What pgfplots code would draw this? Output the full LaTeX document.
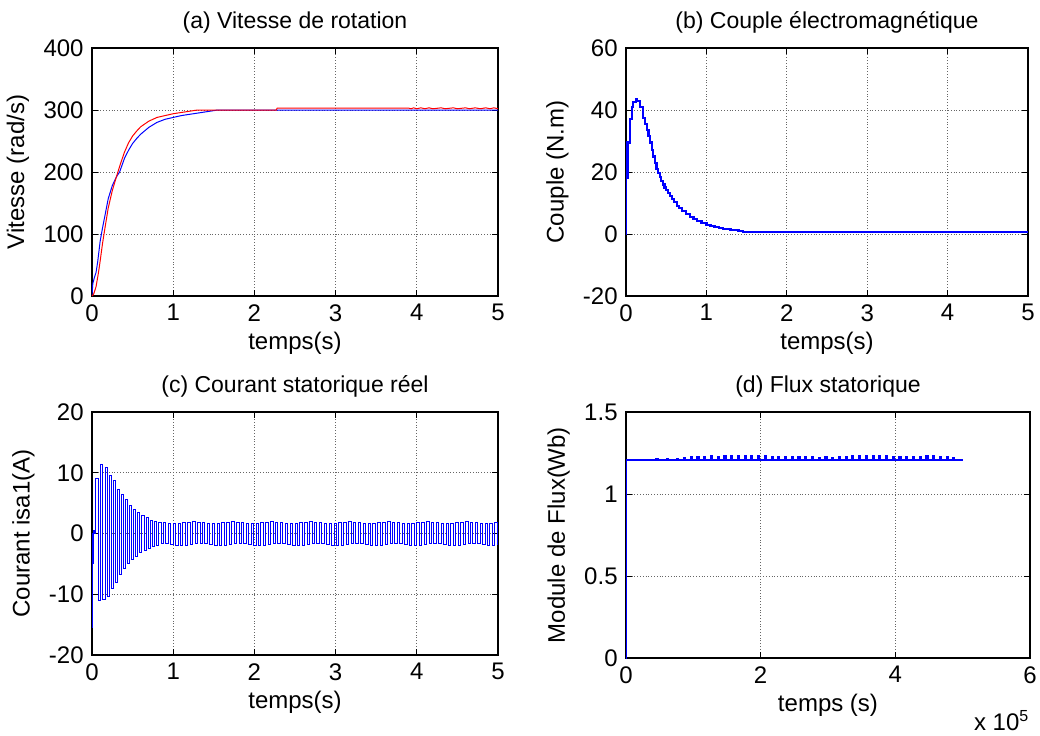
\documentclass[border=0pt,12pt]{standalone}
\usepackage{fontspec}
\setmainfont{Liberation Sans}
\usepackage{pgfplots}
\pgfplotsset{compat=1.18}

% style commun aux quatre sous-figures (aspect Matlab)
\pgfplotsset{
  matlab/.style={
    scale only axis,
    anchor=south west,
    tick align=inside,
    tick pos=both,
    major tick length=3pt,
    grid=major,
    grid style={densely dotted, black!60, line width=0.4pt},
    axis line style={line width=0.7pt},
    every tick/.style={black, line width=0.5pt},
    /pgf/number format/assume math mode=true,
    xlabel style={yshift=3pt},
    ylabel style={yshift=-1pt},
    title style={yshift=-3pt, font=\fontsize{11.5}{13}\selectfont},
  }
}

\begin{document}
\begin{tikzpicture}

% (a) vitesse
\begin{axis}[matlab, at={(46pt,219.5pt)}, width=203pt, height=124pt,
  title={(a) Vitesse de rotation},
  xlabel={temps(s)}, ylabel={Vitesse (rad/s)},
  xmin=0, xmax=5, ymin=0, ymax=400,
  xtick={0,1,...,5}, ytick={0,100,...,400}]
\addplot[blue, line width=0.5pt] coordinates {
  (0,0) (0.01,20) (0.03,30) (0.05,38) (0.07,55) (0.1,88) (0.13,110) (0.16,130)
  (0.2,157) (0.25,178) (0.3,192) (0.34,200) (0.4,222) (0.45,235) (0.5,246)
  (0.55,254) (0.6,261) (0.7,272) (0.8,280) (0.9,285) (1.0,288) (1.1,291)
  (1.2,293) (1.3,295) (1.4,297) (1.5,299) (1.55,300) (5,300)
};
\addplot[red, line width=0.5pt] coordinates {
  (0,0) (0.02,3) (0.05,15) (0.08,38) (0.1,56) (0.13,85) (0.16,110) (0.2,142)
  (0.25,170) (0.3,192) (0.35,213) (0.4,232) (0.45,247) (0.5,258) (0.55,266)
  (0.6,273) (0.7,282) (0.8,288) (0.9,291) (1.0,294) (1.1,296) (1.2,298)
  (1.3,300) (2.27,300) (2.28,303) (3.9,303) (3.93,302) (3.96,303.5) (4.0,302)
  (4.05,303.5) (4.1,302) (4.15,303.5) (4.2,302) (4.3,303.5) (4.35,302)
  (4.45,303.5) (4.5,302) (4.6,303.5) (4.65,302) (4.72,303.5) (4.78,302)
  (4.85,303.5) (4.9,302) (4.95,303.5) (5,302)
};
\end{axis}

% (b) couple
\begin{axis}[matlab, at={(313pt,219.5pt)}, width=201pt, height=124pt,
  title={(b) Couple électromagnétique},
  xlabel={temps(s)}, ylabel={Couple (N.m)},
  xmin=0, xmax=5, ymin=-20, ymax=60,
  xtick={0,1,...,5}, ytick={-20,0,...,60}]
\addplot[blue, line width=1.1pt, const plot] coordinates {
  (0,0) (0.004,18) (0.015,18) (0.018,29.5) (0.04,29.5) (0.045,37) (0.065,37)
  (0.07,41) (0.09,42.5) (0.12,43.5) (0.14,43) (0.17,41) (0.215,37.5)
  (0.24,35.5) (0.26,33.5) (0.28,31.5) (0.3,29.5) (0.32,27.2) (0.34,25)
  (0.36,23) (0.38,21) (0.4,19.6) (0.42,18.3) (0.44,17.1) (0.46,16) (0.48,15)
  (0.5,14.2) (0.525,13.2) (0.55,12.2) (0.575,11.2) (0.6,10.2) (0.63,9.1)
  (0.66,8.3) (0.7,7.5) (0.75,6.5) (0.8,5.5) (0.84,4.9) (0.88,4.3)
  (0.94,3.5) (1.0,2.9) (1.05,2.5) (1.1,2.2) (1.16,1.9) (1.21,1.6) (1.3,1.3)
  (1.4,1.0) (1.46,0.75) (1.5,0.6) (5,0.6)
};
\end{axis}

% (c) courant
\begin{axis}[matlab, at={(46pt,40pt)}, width=203pt, height=121.5pt,
  title={(c) Courant statorique réel},
  xlabel={temps(s)}, ylabel={Courant isa1(A)},
  xmin=0, xmax=5, ymin=-20, ymax=20,
  xtick={0,1,...,5}, ytick={-20,-10,...,20}]
\addplot[blue, line width=0.45pt, const plot] coordinates {
  (0,0) (0.004,-15.5) (0.01,-5) (0.022,0.5) (0.03,0)
  (0.045,9) (0.078,-11) (0.11,11.3) (0.13,-10.8) (0.16,10.8) (0.19,-10.4)
  (0.215,9.6) (0.24,-9) (0.265,8.7) (0.29,-8) (0.315,7.3) (0.34,-6.8)
  (0.365,6.4) (0.39,-5.8) (0.415,5.6) (0.44,-5) (0.465,4.7) (0.49,-4.3)
  (0.515,4) (0.54,-3.7) (0.565,3.4) (0.59,-3.2) (0.615,3) (0.64,-2.8)
  (0.665,2.6) (0.69,-2.4) (0.715,2.2) (0.74,-2.1) (0.765,2) (0.79,-1.9)
  (0.82,1.9) (0.85,-1.6) (0.88,1.8) (0.91,-1.7) (0.94,1.7) (0.97,-1.8)
  (1.00,1.6) (1.03,-1.9) (1.06,1.7) (1.09,-2.0) (1.12,1.8) (1.15,-1.9)
  (1.18,1.9) (1.21,-1.8) (1.24,2.0) (1.27,-1.7) (1.30,1.9) (1.33,-1.6)
  (1.36,1.8) (1.39,-1.7) (1.42,1.7) (1.45,-1.8) (1.48,1.6) (1.51,-1.9)
  (1.54,1.7) (1.57,-2.0) (1.60,1.8) (1.63,-1.9) (1.66,1.9) (1.69,-1.8)
  (1.72,2.0) (1.75,-1.7) (1.78,1.9) (1.81,-1.6) (1.84,1.8) (1.87,-1.7)
  (1.90,1.7) (1.93,-1.8) (1.96,1.6) (1.99,-1.9) (2.02,1.7) (2.05,-2.0)
  (2.08,1.8) (2.11,-1.9) (2.14,1.9) (2.17,-1.8) (2.20,2.0) (2.23,-1.7)
  (2.26,1.9) (2.29,-1.6) (2.32,1.8) (2.35,-1.7) (2.38,1.7) (2.41,-1.8)
  (2.44,1.6) (2.47,-1.9) (2.50,1.7) (2.53,-2.0) (2.56,1.8) (2.59,-1.9)
  (2.62,1.9) (2.65,-1.8) (2.68,2.0) (2.71,-1.7) (2.74,1.9) (2.77,-1.6)
  (2.80,1.8) (2.83,-1.7) (2.86,1.7) (2.89,-1.8) (2.92,1.6) (2.95,-1.9)
  (2.98,1.7) (3.01,-2.0) (3.04,1.8) (3.07,-1.9) (3.10,1.9) (3.13,-1.8)
  (3.16,2.0) (3.19,-1.7) (3.22,1.9) (3.25,-1.6) (3.28,1.8) (3.31,-1.7)
  (3.34,1.7) (3.37,-1.8) (3.40,1.6) (3.43,-1.9) (3.46,1.7) (3.49,-2.0)
  (3.52,1.8) (3.55,-1.9) (3.58,1.9) (3.61,-1.8) (3.64,2.0) (3.67,-1.7)
  (3.70,1.9) (3.73,-1.6) (3.76,1.8) (3.79,-1.7) (3.82,1.7) (3.85,-1.8)
  (3.88,1.6) (3.91,-1.9) (3.94,1.7) (3.97,-2.0) (4.00,1.8) (4.03,-1.9)
  (4.06,1.9) (4.09,-1.8) (4.12,2.0) (4.15,-1.7) (4.18,1.9) (4.21,-1.6)
  (4.24,1.8) (4.27,-1.7) (4.30,1.7) (4.33,-1.8) (4.36,1.6) (4.39,-1.9)
  (4.42,1.7) (4.45,-2.0) (4.48,1.8) (4.51,-1.9) (4.54,1.9) (4.57,-1.8)
  (4.60,2.0) (4.63,-1.7) (4.66,1.9) (4.69,-1.6) (4.72,1.8) (4.75,-1.7)
  (4.78,1.7) (4.81,-1.8) (4.84,1.6) (4.87,-1.9) (4.90,1.7) (4.93,-2.0)
  (4.96,1.8) (4.99,-1.9)
};
\end{axis}

% (d) flux
\begin{axis}[matlab, at={(313pt,38.5pt)}, width=202pt, height=123pt,
  title={(d) Flux statorique},
  xlabel={temps (s)}, ylabel={Module de Flux(Wb)},
  xmin=0, xmax=600000, ymin=0, ymax=1.5,
  scaled x ticks=false, clip=false,
  xtick={0,200000,400000,600000}, xticklabels={0,2,4,6},
  ytick={0,0.5,1,1.5}]
\addplot[blue, line width=0.9pt, const plot] coordinates {
  (0,0) (800,1.205) (45000,1.212) (47000,1.205) (60000,1.214) (62000,1.205)
  (75000,1.216) (77000,1.205) (86000,1.222) (88000,1.205) (96000,1.225)
  (98000,1.205) (106000,1.225) (108000,1.205) (116000,1.228) (118000,1.205)
  (126000,1.23) (128000,1.205) (136000,1.228) (138000,1.205) (146000,1.23)
  (148000,1.205) (156000,1.232) (158000,1.205) (166000,1.23) (168000,1.205)
  (176000,1.232) (178000,1.205) (186000,1.232) (188000,1.205) (196000,1.232)
  (198000,1.205) (206000,1.23) (208000,1.205) (216000,1.225) (218000,1.205)
  (226000,1.228) (228000,1.205) (236000,1.225) (238000,1.205) (246000,1.228)
  (248000,1.205) (256000,1.225) (258000,1.205) (266000,1.228) (268000,1.205)
  (276000,1.225) (278000,1.205) (286000,1.222) (288000,1.205) (296000,1.225)
  (298000,1.205) (306000,1.222) (308000,1.205) (316000,1.225) (318000,1.205)
  (326000,1.228) (328000,1.205) (336000,1.23) (338000,1.205) (346000,1.232)
  (348000,1.205) (356000,1.232) (358000,1.205) (366000,1.232) (368000,1.205)
  (376000,1.23) (378000,1.205) (386000,1.232) (388000,1.205) (396000,1.228)
  (398000,1.205) (406000,1.225) (408000,1.205) (416000,1.228) (418000,1.205)
  (426000,1.225) (428000,1.205) (436000,1.228) (438000,1.205) (446000,1.232)
  (448000,1.205) (456000,1.232) (458000,1.205) (466000,1.228) (468000,1.205)
  (476000,1.225) (478000,1.205) (486000,1.222) (488000,1.205) (500000,1.205)
};
\node[font=\fontsize{12}{14}\selectfont] at (rel axis cs:0.93,-0.255) {x 10$^{\mathrm{5}}$};
\end{axis}

\pgfresetboundingbox
\path (0,0) rectangle (520pt,367.5pt);
\end{tikzpicture}
\end{document}
